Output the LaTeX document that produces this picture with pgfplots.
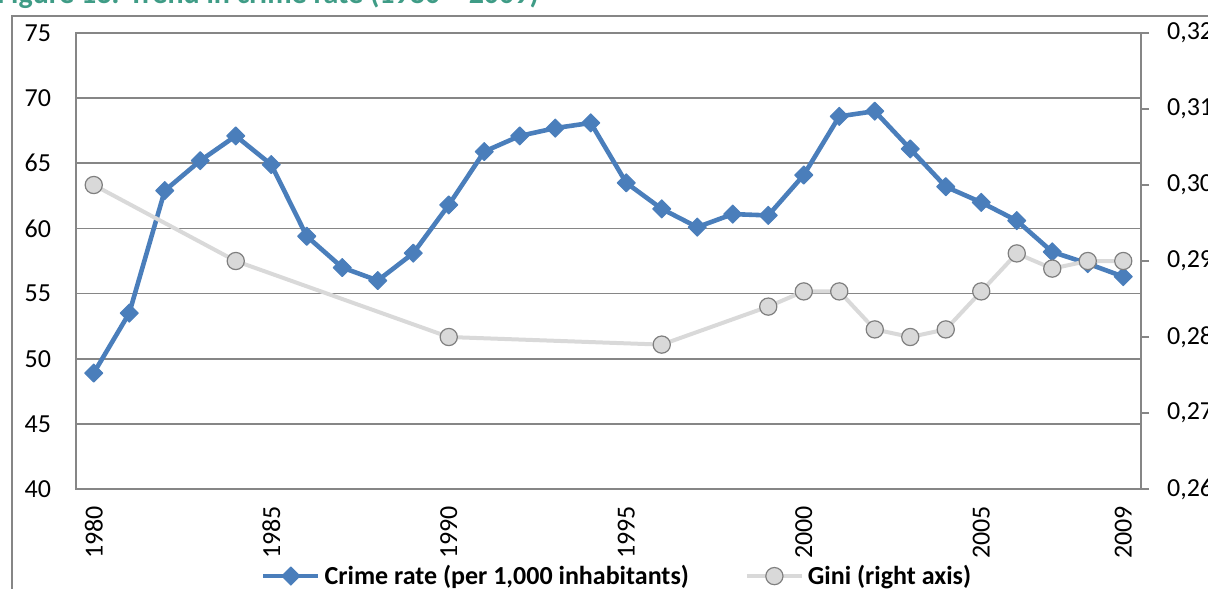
\documentclass[border=0pt]{standalone}
\usepackage{pgfplots}
\pgfplotsset{compat=1.18}
\usepackage{pgfplotstable}
\usepackage{fontspec}
\setmainfont{Carlito}

\definecolor{crimeblue}{HTML}{4A7EBB}
\definecolor{giniline}{HTML}{D9D9D9}
\definecolor{giniedge}{HTML}{7F7F7F}
\definecolor{gridgray}{HTML}{868686}
\definecolor{titlegreen}{HTML}{3F9C86}

% crime rate per 1,000 inhabitants (left axis)
\pgfplotstableread{
year crime
1980 48.9
1981 53.5
1982 62.9
1983 65.2
1984 67.1
1985 64.9
1986 59.4
1987 57.0
1988 56.0
1989 58.1
1990 61.8
1991 65.9
1992 67.1
1993 67.7
1994 68.1
1995 63.5
1996 61.5
1997 60.1
1998 61.1
1999 61.0
2000 64.1
2001 68.6
2002 69.0
2003 66.1
2004 63.2
2005 62.0
2006 60.6
2007 58.2
2008 57.3
2009 56.3
}\crimedata

% Gini coefficient (right axis)
\pgfplotstableread{
year gini
1980 0.300
1984 0.290
1990 0.280
1996 0.279
1999 0.284
2000 0.286
2001 0.286
2002 0.281
2003 0.280
2004 0.281
2005 0.286
2006 0.291
2007 0.289
2008 0.290
2009 0.290
}\ginidata

\pgfplotsset{
  crimestyle/.style={color=crimeblue, line width=2.3pt, line join=round,
    mark=square*, mark size=3.2pt,
    mark options={rotate=45, line width=0.5pt, fill=crimeblue},
    legend image code/.code={\draw[mark repeat=2, mark phase=2]
      plot coordinates {(0pt,0pt) (13.75pt,0pt) (27.5pt,0pt)};}},
  ginistyle/.style={color=giniline, line width=2pt, line join=round,
    mark=*, mark size=4.3pt,
    mark options={fill=giniline, draw=giniedge, line width=0.6pt},
    legend image code/.code={\draw[mark repeat=2, mark phase=2]
      plot coordinates {(0pt,0pt) (13.75pt,0pt) (27.5pt,0pt)};}},
}

\begin{document}
\begin{tikzpicture}[font=\fontsize{13}{15.6}\selectfont]
  \draw[gridgray, line width=0.75pt] (6pt,-8pt) rectangle (640pt,-320pt);
  \node[anchor=base west, text=titlegreen, inner sep=0pt,
        font=\bfseries\fontsize{15}{18}\selectfont] at (-1.5pt,-2pt)
        {Figure 13: Trend in crime rate (1980 -- 2009)};

  \begin{axis}[
      at={(38pt,-244.5pt)}, anchor=south west,
      scale only axis, width=532.5pt, height=228pt,
      xmin=1979.5, xmax=2009.5,
      ymin=40, ymax=75,
      ytick={40,45,...,75},
      xtick={1980,1985,1990,1995,2000,2005,2009},
      x tick label style={/pgf/number format/1000 sep={}},
      xticklabel style={rotate=90, anchor=east, xshift=-5pt},
      yticklabel style={xshift=-9pt},
      /pgf/number format/assume math mode=true,
      axis line style={gridgray, line width=0.85pt},
      ymajorgrids, grid style={gridgray, line width=0.85pt},
      major tick length=0pt,
    ]
    \addplot[crimestyle] table[x=year, y=crime] {\crimedata};
  \end{axis}

  \begin{axis}[
      at={(38pt,-244.5pt)}, anchor=south west,
      scale only axis, width=532.5pt, height=228pt,
      xmin=1979.5, xmax=2009.5,
      ymin=0.26, ymax=0.32,
      hide x axis,
      axis y line*=right,
      y axis line style={-, gridgray, line width=0.85pt},
      ytick={0.26,0.27,0.28,0.29,0.30,0.31,0.32},
      ytick style={gridgray, line width=0.85pt},
      tick align=outside, major tick length=4pt,
      yticklabel style={xshift=5.5pt, /pgf/number format/.cd, fixed, fixed zerofill,
        precision=2, use comma, assume math mode=true},
      legend columns=2,
      legend style={at={(0.509,-0.191)}, anchor=center, draw=none, fill=none,
        font=\bfseries\fontsize{13}{15.6}\selectfont,
        /tikz/every even column/.append style={column sep=26pt}},
    ]
    \addlegendimage{crimestyle}
    \addlegendentry{Crime rate (per 1,000 inhabitants)}
    \addplot[ginistyle] table[x=year, y=gini] {\ginidata};
    \addlegendentry{Gini (right axis)}
  \end{axis}

  \pgfresetboundingbox
  \useasboundingbox (0,0) rectangle (604pt,-294pt);
\end{tikzpicture}
\end{document}
